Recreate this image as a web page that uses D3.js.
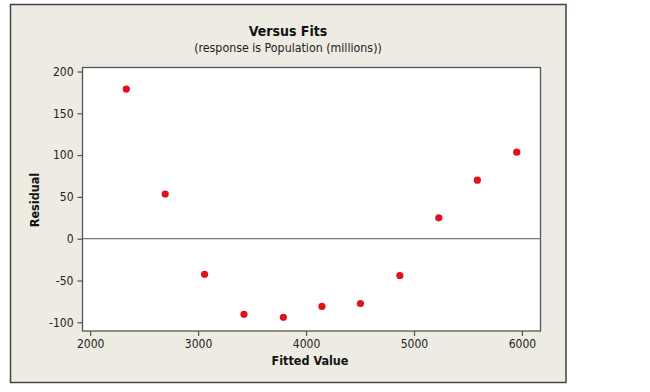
<!DOCTYPE html>
<html><head><meta charset="utf-8">
<script src="https://cdn.jsdelivr.net/npm/d3@7"></script>
<style>
body{margin:0;background:#fff;}
svg text{font-family:"DejaVu Sans Condensed","DejaVu Sans",sans-serif;}
</style></head>
<body><svg id="c" width="650" height="392"></svg>
<script>
const fitted = [2335, 2695, 3060, 3425, 3790, 4147, 4504, 4869, 5230, 5587, 5952];
const residual = [179, 53.5, -42.5, -90.5, -94, -81, -77.5, -44, 25, 70, 103.5];
const xTicks = [2000, 3000, 4000, 5000, 6000];
const yTicks = [-100, -50, 0, 50, 100, 150, 200];
const title = "Versus Fits";
const subtitle = "(response is Population (millions))";
const xLabel = "Fitted Value";
const yLabel = "Residual";

const svg = d3.select("#c");
svg.append("rect").attr("x",10.5).attr("y",4.5).attr("width",555.5).attr("height",378)
  .attr("fill","#eeebe3").attr("stroke","#444").attr("stroke-width",1.5);

const L=82.5, R=540.5, T=67.5, B=331;
const x = d3.scaleLinear().domain([1929, 6172]).range([L, R]);
const y = d3.scaleLinear().domain([-110.4, 204.8]).range([B, T]);

svg.append("rect").attr("x",L).attr("y",T).attr("width",R-L).attr("height",B-T)
  .attr("fill","#fff").attr("stroke","#555").attr("stroke-width",1.3);

svg.append("line").attr("x1",L).attr("x2",R).attr("y1",y(0)).attr("y2",y(0))
  .attr("stroke","#777").attr("stroke-width",1.3);

const fmt = d => String(d);
const xa = svg.append("g").attr("transform",`translate(0,${B})`)
  .call(d3.axisBottom(x).tickValues(xTicks).tickFormat(fmt).tickSize(5).tickSizeOuter(0).tickPadding(3));
const ya = svg.append("g").attr("transform",`translate(${L},0)`)
  .call(d3.axisLeft(y).tickValues(yTicks).tickFormat(fmt).tickSize(5).tickSizeOuter(0).tickPadding(4));
[xa,ya].forEach(a=>{
  a.select(".domain").remove();
  a.selectAll(".tick line").attr("stroke","#555").attr("stroke-width",1.2);
  a.selectAll(".tick text").attr("fill","#222").style("font-size","12px");
});

svg.selectAll("circle.pt").data(fitted).join("circle").attr("class","pt")
  .attr("cx",(d)=>x(d)).attr("cy",(d,i)=>y(residual[i])).attr("r",3.6)
  .attr("fill","#e2101a");

svg.append("text").attr("x",288).attr("y",36).attr("text-anchor","middle")
  .style("font-size","14px").style("font-weight","bold").attr("fill","#111").text(title);
svg.append("text").attr("x",288).attr("y",52).attr("text-anchor","middle")
  .style("font-size","12.3px").attr("fill","#222").text(subtitle);
svg.append("text").attr("x",310).attr("y",365).attr("text-anchor","middle")
  .style("font-size","12.5px").style("font-weight","bold").attr("fill","#111").text(xLabel);
svg.append("text").attr("transform","translate(39,200) rotate(-90)").attr("text-anchor","middle")
  .style("font-size","12.5px").style("font-weight","bold").attr("fill","#111").text(yLabel);
</script></body></html>
